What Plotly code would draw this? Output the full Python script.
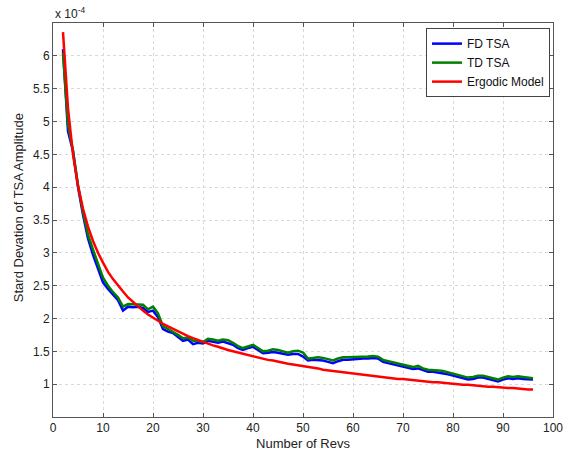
import plotly.graph_objects as go

revs = list(range(2, 97))

fd_tsa = [
    6.10, 4.85, 4.55, 4.00, 3.58, 3.22, 2.97, 2.75,                # 2-9
    2.55, 2.45, 2.36, 2.28, 2.12, 2.18, 2.17, 2.18, 2.16, 2.10,    # 10-19
    2.12, 2.02, 1.84, 1.80, 1.78, 1.72, 1.66, 1.68, 1.61, 1.63,    # 20-29
    1.62, 1.66, 1.65, 1.63, 1.65, 1.63, 1.60, 1.55, 1.52, 1.55,    # 30-39
    1.57, 1.52, 1.47, 1.48, 1.49, 1.48, 1.46, 1.45, 1.46, 1.46,    # 40-49
    1.42, 1.36, 1.37, 1.37, 1.36, 1.34, 1.32, 1.35, 1.37, 1.37,    # 50-59
    1.38, 1.38, 1.39, 1.39, 1.40, 1.39, 1.34, 1.32, 1.30, 1.28,    # 60-69
    1.27, 1.25, 1.23, 1.24, 1.21, 1.19, 1.19, 1.18, 1.17, 1.15,    # 70-79
    1.13, 1.11, 1.08, 1.07, 1.08, 1.10, 1.10, 1.08, 1.05, 1.04,    # 80-89
    1.07, 1.09, 1.08, 1.09, 1.08, 1.07, 1.07,                      # 90-96
]

td_tsa = [
    6.05, 4.95, 4.55, 4.03, 3.62, 3.28, 3.05, 2.85,                # 2-9
    2.62, 2.50, 2.40, 2.32, 2.18, 2.22, 2.22, 2.21, 2.21, 2.14,    # 10-19
    2.18, 2.08, 1.88, 1.84, 1.80, 1.75, 1.70, 1.71, 1.66, 1.66,    # 20-29
    1.64, 1.69, 1.68, 1.66, 1.68, 1.67, 1.63, 1.58, 1.55, 1.58,    # 30-39
    1.60, 1.55, 1.50, 1.51, 1.53, 1.52, 1.50, 1.48, 1.50, 1.51,    # 40-49
    1.48, 1.39, 1.40, 1.41, 1.40, 1.38, 1.36, 1.39, 1.41, 1.41,    # 50-59
    1.41, 1.41, 1.42, 1.42, 1.43, 1.42, 1.37, 1.35, 1.33, 1.31,    # 60-69
    1.30, 1.28, 1.26, 1.28, 1.24, 1.22, 1.22, 1.21, 1.20, 1.18,    # 70-79
    1.16, 1.14, 1.11, 1.10, 1.11, 1.13, 1.13, 1.11, 1.08, 1.07,    # 80-89
    1.10, 1.12, 1.11, 1.12, 1.11, 1.10, 1.09,                      # 90-96
]

ergodic = [
    6.36, 5.20, 4.50, 4.02, 3.67, 3.40, 3.18, 3.00,                # 2-9
    2.85, 2.71, 2.60, 2.50, 2.41, 2.32, 2.25, 2.18, 2.12, 2.06,    # 10-19
    2.01, 1.96, 1.92, 1.88, 1.84, 1.80, 1.77, 1.73, 1.70, 1.67,    # 20-29
    1.64, 1.62, 1.59, 1.57, 1.54, 1.52, 1.50, 1.48, 1.46, 1.44,    # 30-39
    1.42, 1.41, 1.39, 1.37, 1.36, 1.34, 1.33, 1.31, 1.30, 1.29,    # 40-49
    1.27, 1.26, 1.25, 1.24, 1.22, 1.21, 1.20, 1.19, 1.18, 1.17,    # 50-59
    1.16, 1.15, 1.14, 1.13, 1.13, 1.12, 1.11, 1.10, 1.09, 1.08,    # 60-69
    1.08, 1.07, 1.06, 1.05, 1.05, 1.04, 1.03, 1.03, 1.02, 1.01,    # 70-79
    1.01, 1.00, 0.99, 0.99, 0.98, 0.98, 0.97, 0.96, 0.96, 0.95,    # 80-89
    0.95, 0.94, 0.94, 0.93, 0.93, 0.92, 0.92,                      # 90-96
]

x_ticks = list(range(0, 101, 10))
y_ticks = [1, 1.5, 2, 2.5, 3, 3.5, 4, 4.5, 5, 5.5, 6]
y_tick_labels = ["1", "1.5", "2", "2.5", "3", "3.5", "4", "4.5", "5", "5.5", "6"]

FONT = "Liberation Sans, Arial, sans-serif"

fig = go.Figure()
fig.add_trace(go.Scatter(x=revs, y=fd_tsa, mode="lines", name="FD TSA",
                         line=dict(color="#0000ff", width=2.5)))
fig.add_trace(go.Scatter(x=revs, y=td_tsa, mode="lines", name="TD TSA",
                         line=dict(color="#008000", width=2.5)))
fig.add_trace(go.Scatter(x=revs, y=ergodic, mode="lines", name="Ergodic Model",
                         line=dict(color="#ff0000", width=2.5)))

axis_common = dict(
    showline=True, linecolor="#555555", linewidth=1, mirror="allticks",
    ticks="inside", ticklen=4, tickcolor="#555555",
    showgrid=True, gridcolor="#d9d9d9", griddash="dot", gridwidth=1,
    zeroline=False, tickfont=dict(family=FONT, size=12, color="#222222"),
)

fig.update_layout(
    width=575, height=461,
    margin=dict(l=53, r=17, t=23, b=40),
    paper_bgcolor="white", plot_bgcolor="white",
    font=dict(family=FONT, size=12, color="#222222"),
    xaxis=dict(range=[0, 100], tickvals=x_ticks,
               title=dict(text="Number of Revs", standoff=4,
                          font=dict(family=FONT, size=13, color="#222222")),
               **axis_common),
    yaxis=dict(range=[0.5, 6.5], tickvals=y_ticks, ticktext=y_tick_labels,
               **axis_common),
    legend=dict(x=0.994, y=0.987, xanchor="right", yanchor="top",
                bgcolor="white", bordercolor="#444444", borderwidth=1,
                font=dict(family=FONT, size=12, color="#111111"),
                tracegroupgap=0, itemwidth=30),
    showlegend=True,
    annotations=[
        dict(text="x 10<sup>-4</sup>", xref="paper", yref="paper",
             x=0.0, y=1.0, xanchor="left", yanchor="bottom", showarrow=False,
             font=dict(family=FONT, size=12, color="#222222")),
        dict(text="Stard Devation of TSA Amplitude", xref="paper", yref="paper",
             x=0, y=0.53, xanchor="center", yanchor="middle", showarrow=False,
             textangle=-90, xshift=-35,
             font=dict(family=FONT, size=13, color="#222222")),
    ],
)

fig.write_html("out.html")
